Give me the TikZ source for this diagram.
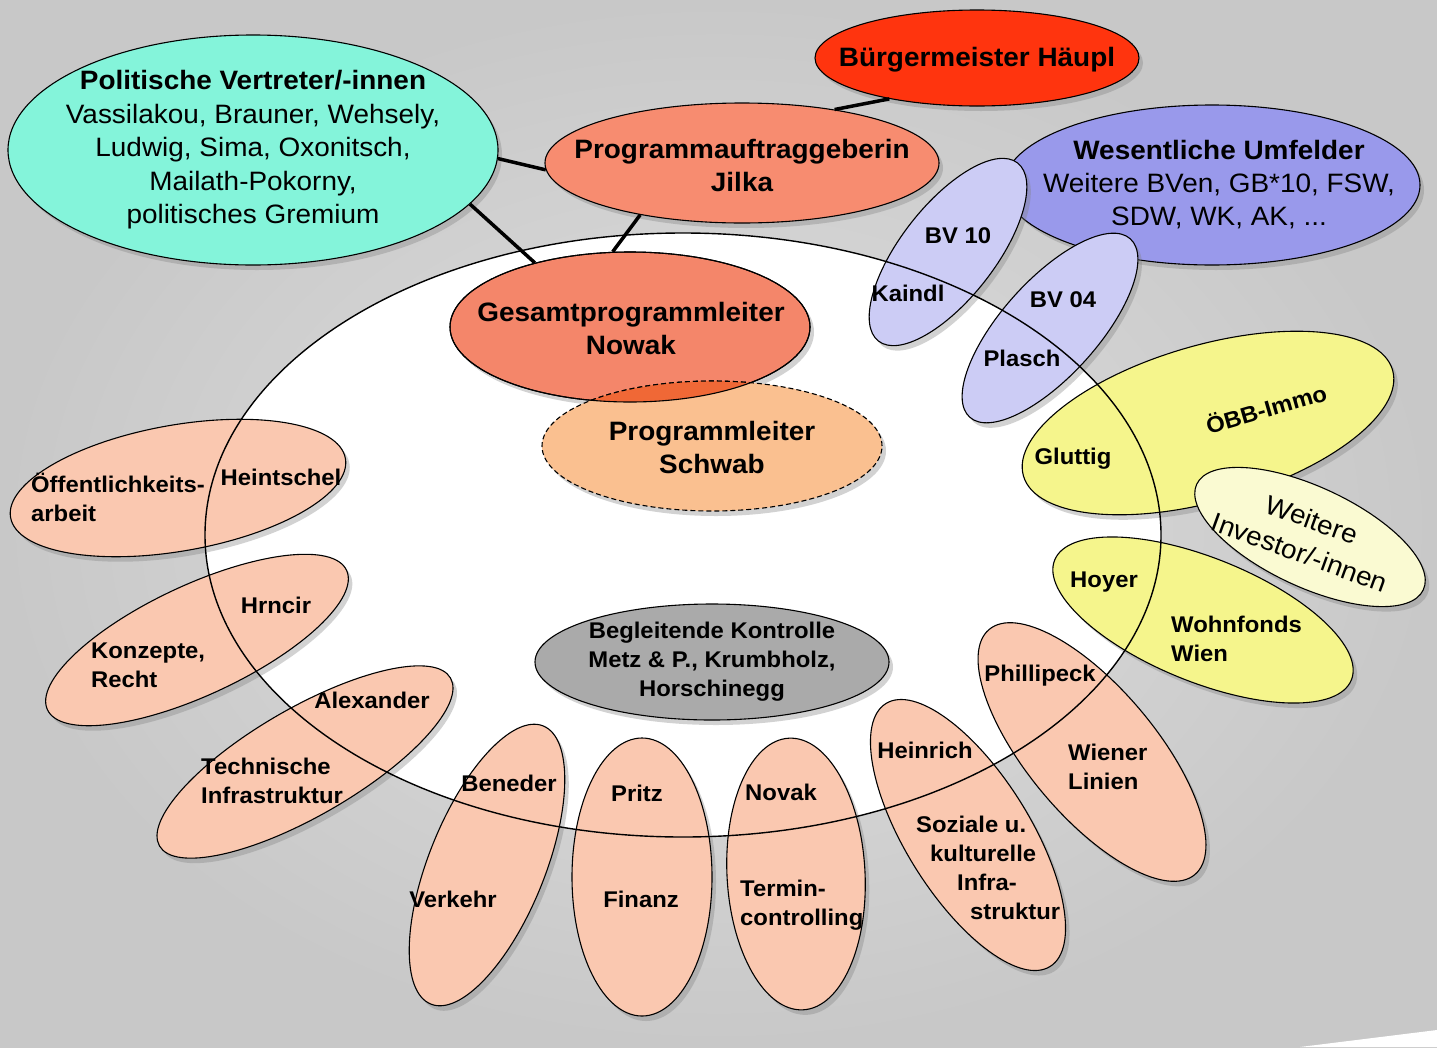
\documentclass[tikz,border=0pt]{standalone}
\usepackage{fontspec}
\setmainfont{Liberation Sans}[FakeStretch=1.05]
\usetikzlibrary{shapes.geometric,shadows}

\definecolor{bgGray}{RGB}{200,200,200}
\definecolor{polCyan}{RGB}{132,244,218}
\definecolor{bgmRed}{RGB}{255,52,14}
\definecolor{auftragSalmon}{RGB}{247,140,112}
\definecolor{gesamtSalmon}{RGB}{244,134,106}
\definecolor{schwabPeach}{RGB}{250,192,144}
\definecolor{overlapOrange}{RGB}{240,104,54}
\definecolor{umfeldBlue}{RGB}{153,153,235}
\definecolor{bvLilac}{RGB}{204,204,245}
\definecolor{immoYellow}{RGB}{245,245,140}
\definecolor{investPale}{RGB}{250,250,210}
\definecolor{petalPeach}{RGB}{250,200,176}
\definecolor{kontrolleGray}{RGB}{170,170,170}

\tikzset{
  blob/.style={ellipse, draw, line width=1.1pt, inner sep=0pt,
    drop shadow={shadow xshift=4pt, shadow yshift=-5pt, opacity=.35}},
  petal/.style={blob, fill=petalPeach},
  link/.style={line width=3.5pt},
  dashline/.style={line width=1.1pt, dash pattern=on 5pt off 3pt},
  toptxt/.style={font=\bfseries\fontsize{26.6}{33}\selectfont, inner sep=0pt, align=center},
  petaltxt/.style={font=\bfseries\fontsize{22.7}{29}\selectfont, inner sep=0pt, align=left},
}

\begin{document}
\begin{tikzpicture}[x=1pt, y=-1pt]
\useasboundingbox (0,0) rectangle (1437,1047);
\shade[inner color=gray!25, outer color=bgGray] (0,0) rectangle (1437,1047);
\fill[white] (1300,1047) -- (1437,1030) -- (1437,1047) -- cycle;

% white ring in the middle
\fill[white] (683,535) ellipse [x radius=478pt, y radius=302pt];

% environment
\node[blob, fill=umfeldBlue, minimum width=416pt, minimum height=160pt] (umfeld) at (1212,185) {};
\node[blob, fill=bvLilac, minimum width=226pt, minimum height=94pt, rotate=52] (bv10) at (948,252) {};
\node[blob, fill=bvLilac, minimum width=240pt, minimum height=96pt, rotate=48] (bv04) at (1050,328) {};
\node[blob, fill=immoYellow, minimum width=384pt, minimum height=156pt, rotate=16] (immo) at (1208,423) {};
\node[blob, fill=investPale, minimum width=250pt, minimum height=100pt, rotate=-25] (invest) at (1310,537) {};
\node[blob, fill=immoYellow, minimum width=320pt, minimum height=124pt, rotate=-22] (wohn) at (1203,620) {};

% petals
\node[petal, minimum width=340pt, minimum height=126pt, rotate=10] (oeff) at (178,488) {};
\node[petal, minimum width=330pt, minimum height=110pt, rotate=25] (konz) at (197,640) {};
\node[petal, minimum width=336pt, minimum height=108pt, rotate=30] (tech) at (305,762) {};
\node[petal, minimum width=300pt, minimum height=116pt, rotate=68] (verk) at (487,865) {};
\node[petal, minimum width=278pt, minimum height=140pt, rotate=90] (fin) at (642,877) {};
\node[petal, minimum width=272pt, minimum height=138pt, rotate=93] (term) at (796,874) {};
\node[petal, minimum width=310pt, minimum height=124pt, rotate=-58] (soz) at (968,835) {};
\node[petal, minimum width=320pt, minimum height=128pt, rotate=-50] (wien) at (1092,752) {};

\draw[line width=1.4pt] (683,535) ellipse [x radius=478pt, y radius=302pt];

% leaders
\node[blob, fill=polCyan, minimum width=490pt, minimum height=230pt] (pol) at (253,150) {};
\node[blob, fill=bgmRed, minimum width=324pt, minimum height=96pt] (bgm) at (977,58) {};
\node[blob, fill=auftragSalmon, minimum width=394pt, minimum height=120pt] (auftrag) at (742,163) {};
\node[blob, fill=gesamtSalmon, minimum width=360pt, minimum height=150pt] (gesamt) at (630,327) {};
\node[blob, fill=schwabPeach, dashline, minimum width=340pt, minimum height=130pt] (schwab) at (712,446) {};
\begin{scope}
  \clip (630,327) ellipse [x radius=180pt, y radius=75pt];
  \fill[overlapOrange] (712,446) ellipse [x radius=170pt, y radius=65pt];
  \draw[dashline] (712,446) ellipse [x radius=170pt, y radius=65pt];
\end{scope}
\draw[line width=1.1pt] (630,327) ellipse [x radius=180pt, y radius=75pt];
\node[blob, fill=kontrolleGray, minimum width=354pt, minimum height=116pt] (kontrolle) at (712,662) {};

\draw[link] (pol.-2) -- (auftrag.182);
\draw[link] (pol.-14) -- (gesamt.146);
\draw[link] (auftrag.207) -- (gesamt.103);
\draw[link] (bgm.205) -- (auftrag.30);

% texts
\node[toptxt, font=\fontsize{26.6}{33.5}\selectfont] (polT) at (253,150)
  {{\bfseries Politische Vertreter/-innen}\\Vassilakou, Brauner, Wehsely,\\Ludwig, Sima, Oxonitsch,\\Mailath-Pokorny,\\politisches Gremium};
\node[toptxt] (bgmT) at (977,60) {Bürgermeister Häupl};
\node[toptxt] (auftragT) at (742,165) {Programmauftraggeberin\\Jilka};
\node[toptxt, font=\fontsize{26.6}{33}\selectfont] (umfeldT) at (1219,185)
  {{\bfseries Wesentliche Umfelder}\\Weitere BVen, GB*10, FSW,\\SDW, WK, AK, ...};
\node[toptxt] (gesamtT) at (631,328) {Gesamtprogrammleiter\\Nowak};
\node[toptxt] (schwabT) at (712,447) {Programmleiter\\Schwab};
\node[toptxt, font=\bfseries\fontsize{22.7}{29}\selectfont] (kontrolleT) at (712,662)
  {Begleitende Kontrolle\\Metz \& P., Krumbholz,\\Horschinegg};

\node[petaltxt] (bv10a) at (958,236) {BV 10};
\node[petaltxt] (bv10b) at (908,293) {Kaindl};
\node[petaltxt] (bv04a) at (1063,300) {BV 04};
\node[petaltxt] (bv04b) at (1022,358) {Plasch};
\node[petaltxt] (immoA) at (1073,459) {Gluttig};
\node[petaltxt, rotate=16] (immoB) at (1266,408) {ÖBB-Immo};
\node[toptxt, font=\fontsize{26.6}{35}\selectfont, rotate=-20] (investT) at (1306,536) {Weitere\\Investor/-innen};
\node[petaltxt] (wohnA) at (1104,582) {Hoyer};
\node[petaltxt, anchor=west] (wohnB) at (1171,639) {Wohnfonds\\Wien};

\node[petaltxt, anchor=west] (oeffA) at (31,497) {Öffentlichkeits-\\arbeit};
\node[petaltxt] (oeffB) at (281,477) {Heintschel};
\node[petaltxt] (konzA) at (276,605) {Hrncir};
\node[petaltxt, anchor=west] (konzB) at (91,665) {Konzepte,\\Recht};
\node[petaltxt] (techA) at (372,700) {Alexander};
\node[petaltxt, anchor=west] (techB) at (201,781) {Technische\\Infrastruktur};
\node[petaltxt] (verkA) at (509,783) {Beneder};
\node[petaltxt] (verkB) at (453,899) {Verkehr};
\node[petaltxt] (finA) at (637,793) {Pritz};
\node[petaltxt] (finB) at (641,899) {Finanz};
\node[petaltxt] (termA) at (781,792) {Novak};
\node[petaltxt, anchor=west] (termB) at (740,905) {Termin-\\controlling};
\node[petaltxt] (sozA) at (925,750) {Heinrich};
\node[petaltxt, anchor=west] (sozB) at (916,868)
  {Soziale u.\\\hspace*{14pt}kulturelle\\\hspace*{41pt}Infra-\\\hspace*{54pt}struktur};
\node[petaltxt] (wienA) at (1040,676) {Phillipeck};
\node[petaltxt, anchor=west] (wienB) at (1068,767) {Wiener\\Linien};
\end{tikzpicture}
\end{document}
